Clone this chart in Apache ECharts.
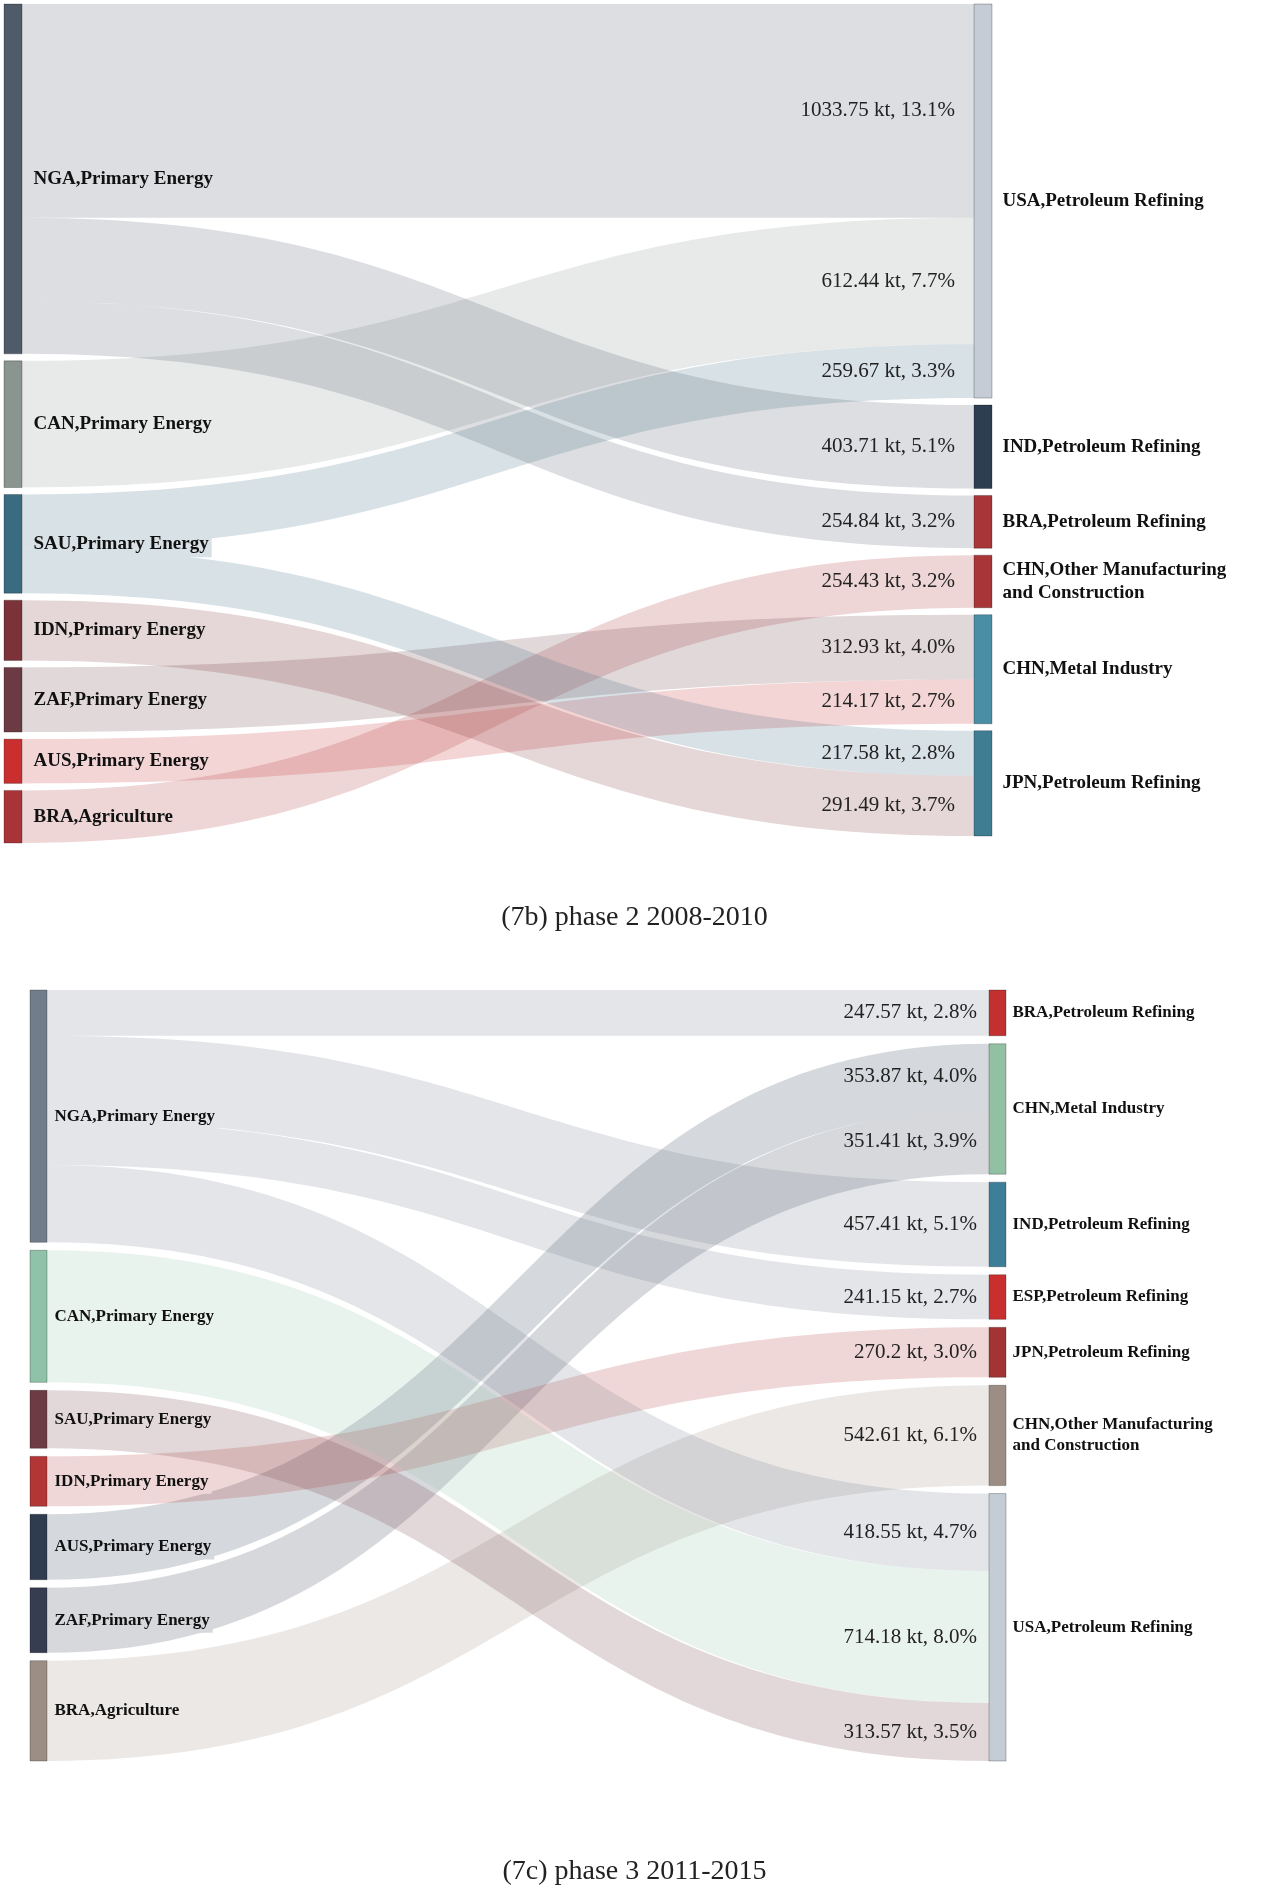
<!DOCTYPE html>
<html>
<head>
<meta charset="utf-8">
<script src="https://cdn.jsdelivr.net/npm/echarts@6/dist/echarts.min.js"></script>
<style>
  html, body { margin: 0; padding: 0; background: #fff; }
  #main { width: 1269px; height: 1893px; }
</style>
</head>
<body>
<div id="main"></div>
<script>
// (7b) phase 2 2008-2010
var p2Sources = ['NGA,Primary Energy', 'CAN,Primary Energy', 'SAU,Primary Energy', 'IDN,Primary Energy',
                 'ZAF,Primary Energy', 'AUS,Primary Energy', 'BRA,Agriculture'];
var p2SourceColors = ['#4f5b68', '#8a958f', '#3b6b80', '#7b3339', '#6b3a42', '#c92f2f', '#a83438'];
var p2Targets = ['USA,Petroleum Refining', 'IND,Petroleum Refining', 'BRA,Petroleum Refining',
                 'CHN,Other Manufacturing and Construction', 'CHN,Metal Industry', 'JPN,Petroleum Refining'];
var p2TargetColors = ['#c5ccd5', '#2c3e50', '#a83538', '#a83538', '#4a8ea5', '#3f7d93'];
var p2LinkFrom = ['NGA,Primary Energy', 'CAN,Primary Energy', 'SAU,Primary Energy', 'NGA,Primary Energy',
                  'NGA,Primary Energy', 'BRA,Agriculture', 'ZAF,Primary Energy', 'AUS,Primary Energy',
                  'SAU,Primary Energy', 'IDN,Primary Energy'];
var p2LinkTo = ['USA,Petroleum Refining', 'USA,Petroleum Refining', 'USA,Petroleum Refining', 'IND,Petroleum Refining',
                'BRA,Petroleum Refining', 'CHN,Other Manufacturing and Construction', 'CHN,Metal Industry',
                'CHN,Metal Industry', 'JPN,Petroleum Refining', 'JPN,Petroleum Refining'];
var p2LinkValue = [1033.75, 612.44, 259.67, 403.71, 254.84, 254.43, 312.93, 214.17, 217.58, 291.49];
var p2LinkShare = [13.1, 7.7, 3.3, 5.1, 3.2, 3.2, 4.0, 2.7, 2.8, 3.7];

// (7c) phase 3 2011-2015
var p3Sources = ['NGA,Primary Energy', 'CAN,Primary Energy', 'SAU,Primary Energy', 'IDN,Primary Energy',
                 'AUS,Primary Energy', 'ZAF,Primary Energy', 'BRA,Agriculture'];
var p3SourceColors = ['#717d8b', '#8fc2a8', '#6c3b43', '#b23636', '#2f3c50', '#363d50', '#9c8e84'];
var p3Targets = ['BRA,Petroleum Refining', 'CHN,Metal Industry', 'IND,Petroleum Refining', 'ESP,Petroleum Refining',
                 'JPN,Petroleum Refining', 'CHN,Other Manufacturing and Construction', 'USA,Petroleum Refining'];
var p3TargetColors = ['#c23030', '#92c0a2', '#3d7f99', '#c92f2f', '#a33434', '#9c8e84', '#c4ccd6'];
var p3LinkFrom = ['NGA,Primary Energy', 'AUS,Primary Energy', 'ZAF,Primary Energy', 'NGA,Primary Energy',
                  'NGA,Primary Energy', 'IDN,Primary Energy', 'BRA,Agriculture', 'NGA,Primary Energy',
                  'CAN,Primary Energy', 'SAU,Primary Energy'];
var p3LinkTo = ['BRA,Petroleum Refining', 'CHN,Metal Industry', 'CHN,Metal Industry', 'IND,Petroleum Refining',
                'ESP,Petroleum Refining', 'JPN,Petroleum Refining', 'CHN,Other Manufacturing and Construction',
                'USA,Petroleum Refining', 'USA,Petroleum Refining', 'USA,Petroleum Refining'];
var p3LinkValue = [247.57, 353.87, 351.41, 457.41, 241.15, 270.2, 542.61, 418.55, 714.18, 313.57];
var p3LinkShare = [2.8, 4.0, 3.9, 5.1, 2.7, 3.0, 6.1, 4.7, 8.0, 3.5];

var SERIF = 'Liberation Serif, Times New Roman, serif';

// mix a colour with white, like a transparent band on a white page
function tint(hex, a) {
  var n = parseInt(hex.slice(1), 16);
  var r = (n >> 16) & 255, g = (n >> 8) & 255, b = n & 255;
  function m(c) { return Math.round(255 - a * (255 - c)); }
  return 'rgb(' + m(r) + ',' + m(g) + ',' + m(b) + ')';
}

function makeSeries(sources, sourceColors, targets, targetColors, from, to, values, box) {
  var nodes = [];
  sources.forEach(function (name, i) {
    nodes.push({
      name: name,
      itemStyle: { color: sourceColors[i] },
      label: {
        distance: box.labelGap,
        backgroundColor: tint(sourceColors[i], 0.2),
        padding: [2, 3]
      }
    });
  });
  targets.forEach(function (name, i) {
    nodes.push({
      name: name,
      itemStyle: { color: targetColors[i] },
      label: { distance: box.labelGap + 2 }
    });
  });
  var links = from.map(function (s, i) {
    return { source: s, target: to[i], value: values[i] };
  });
  return {
    type: 'sankey',
    left: box.left,
    right: box.right,
    top: box.top,
    bottom: box.bottom,
    nodeWidth: box.nodeWidth,
    nodeGap: box.nodeGap,
    layoutIterations: 0,
    draggable: false,
    emphasis: { disabled: true },
    data: nodes,
    links: links,
    itemStyle: { borderWidth: 1, borderColor: 'rgba(0,0,0,0.25)' },
    lineStyle: { color: 'source', opacity: 0.2, curveness: 0.5 },
    label: {
      position: 'right',
      fontFamily: SERIF,
      fontWeight: 'bold',
      fontSize: box.labelSize,
      color: '#111',
      lineHeight: box.labelSize + 4,
      formatter: function (p) { return p.name.replace(' and ', '\nand '); }
    }
  };
}

var chart = echarts.init(document.getElementById('main'));

var box2 = { left: 4, right: 277, top: 4, bottom: 1050, nodeWidth: 18, nodeGap: 7, labelSize: 19, labelGap: 8, valueGap: 19 };
var box3 = { left: 30, right: 263, top: 990, bottom: 132, nodeWidth: 17, nodeGap: 8, labelSize: 17, labelGap: 4, valueGap: 12 };

chart.setOption({
  animation: false,
  backgroundColor: '#fff',
  title: [
    { text: '(7b) phase 2 2008-2010', left: 'center', top: 899,
      textStyle: { fontFamily: SERIF, fontWeight: 'normal', fontSize: 28, color: '#222' } },
    { text: '(7c) phase 3 2011-2015', left: 'center', top: 1853,
      textStyle: { fontFamily: SERIF, fontWeight: 'normal', fontSize: 28, color: '#222' } }
  ],
  series: [
    makeSeries(p2Sources, p2SourceColors, p2Targets, p2TargetColors, p2LinkFrom, p2LinkTo, p2LinkValue, box2),
    makeSeries(p3Sources, p3SourceColors, p3Targets, p3TargetColors, p3LinkFrom, p3LinkTo, p3LinkValue, box3)
  ]
});

// value labels next to the target end of each band, placed from the sankey layout
function valueLabels(seriesIndex, shares, box) {
  var model = chart.getModel().getSeriesByIndex(seriesIndex);
  var graph = model.getGraph();
  var rect = model.layoutInfo || { x: box.left, y: box.top };
  var out = [];
  graph.edges.forEach(function (edge) {
    var el = edge.getLayout();
    var n2 = edge.node2.getLayout();
    out.push({
      type: 'text',
      silent: true,
      z: 100,
      x: rect.x + n2.x - box.valueGap,
      y: rect.y + n2.y + el.ty + el.dy / 2,
      style: {
        text: edge.getValue() + ' kt, ' + shares[edge.dataIndex].toFixed(1) + '%',
        fontFamily: SERIF,
        fontSize: 21,
        fill: '#222',
        align: 'right',
        verticalAlign: 'middle'
      }
    });
  });
  return out;
}

chart.setOption({
  graphic: valueLabels(0, p2LinkShare, box2).concat(valueLabels(1, p3LinkShare, box3))
});
</script>
</body>
</html>
